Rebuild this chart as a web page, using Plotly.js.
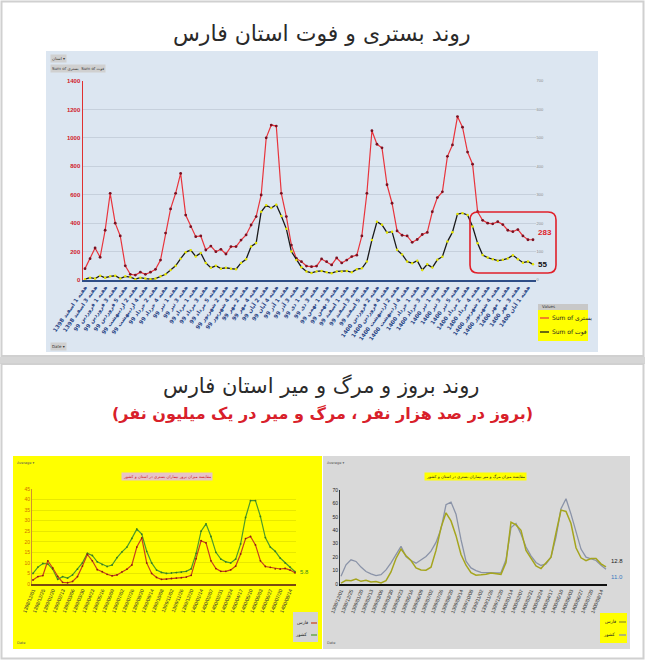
<!DOCTYPE html>
<html><head><meta charset="utf-8">
<script src="https://cdn.plot.ly/plotly-3.0.1.min.js"></script>
<style>html,body{margin:0;padding:0;background:#fff}#chart{width:645px;height:660px}</style>
</head><body><div id="chart"></div>
<script>
// ---------- DATA: top chart (weekly, Fars province) ----------
const weeks = [
'هفته 1 اسفند 1398','هفته 2 اسفند 1398','هفته 3 اسفند 1398','هفته 4 اسفند 1398',
'هفته 1 فروردین 99','هفته 2 فروردین 99','هفته 3 فروردین 99','هفته 4 فروردین 99','هفته 5 فروردین 99',
'هفته 1 اردیبهشت 99','هفته 2 اردیبهشت 99','هفته 3 اردیبهشت 99','هفته 4 اردیبهشت 99',
'هفته 1 خرداد 99','هفته 2 خرداد 99','هفته 3 خرداد 99','هفته 4 خرداد 99','هفته 5 خرداد 99',
'هفته 1 تیر 99','هفته 2 تیر 99','هفته 3 تیر 99','هفته 4 تیر 99',
'هفته 1 مرداد 99','هفته 2 مرداد 99','هفته 3 مرداد 99','هفته 4 مرداد 99','هفته 5 مرداد 99',
'هفته 1 شهریور 99','هفته 2 شهریور 99','هفته 3 شهریور 99','هفته 4 شهریور 99',
'هفته 1 مهر 99','هفته 2 مهر 99','هفته 3 مهر 99','هفته 4 مهر 99',
'هفته 1 آبان 99','هفته 2 آبان 99','هفته 3 آبان 99','هفته 4 آبان 99','هفته 5 آبان 99',
'هفته 1 آذر 99','هفته 2 آذر 99','هفته 3 آذر 99','هفته 4 آذر 99',
'هفته 1 دی 99','هفته 2 دی 99','هفته 3 دی 99','هفته 4 دی 99',
'هفته 1 بهمن 99','هفته 2 بهمن 99','هفته 3 بهمن 99','هفته 4 بهمن 99',
'هفته 1 اسفند 99','هفته 2 اسفند 99','هفته 3 اسفند 99','هفته 4 اسفند 99','هفته 5 اسفند 99',
'هفته 1 فروردین 1400','هفته 2 فروردین 1400','هفته 3 فروردین 1400','هفته 4 فروردین 1400',
'هفته 1 اردیبهشت 1400','هفته 2 اردیبهشت 1400','هفته 3 اردیبهشت 1400','هفته 4 اردیبهشت 1400','هفته 5 اردیبهشت 1400',
'هفته 1 خرداد 1400','هفته 2 خرداد 1400','هفته 3 خرداد 1400','هفته 4 خرداد 1400',
'هفته 1 تیر 1400','هفته 2 تیر 1400','هفته 3 تیر 1400','هفته 4 تیر 1400','هفته 5 تیر 1400',
'هفته 1 مرداد 1400','هفته 2 مرداد 1400','هفته 3 مرداد 1400','هفته 4 مرداد 1400',
'هفته 1 شهریور 1400','هفته 2 شهریور 1400','هفته 3 شهریور 1400','هفته 4 شهریور 1400','هفته 5 شهریور 1400',
'هفته 1 مهر 1400','هفته 2 مهر 1400','هفته 3 مهر 1400','هفته 4 مهر 1400',
'هفته 1 آبان 1400','هفته 2 آبان 1400'
];
const hospitalized = [80,150,225,160,350,610,400,310,100,40,35,55,40,55,75,140,330,500,610,750,
457,375,305,310,211,239,199,216,183,235,235,281,317,387,446,598,1000,1090,1083,610,
446,246,152,129,98,94,98,148,129,106,155,120,140,165,175,310,610,1050,955,930,
670,540,345,315,310,265,285,320,335,480,580,620,870,950,1150,1075,900,815,480,420,
400,395,410,390,350,340,355,310,283,283];
const deaths = [3,8,5,15,8,13,15,5,13,10,3,8,5,3,5,13,20,35,50,75,
98,105,83,95,60,43,50,40,43,40,38,60,73,118,130,240,263,253,265,225,
180,100,70,45,30,25,30,32,27,24,30,30,32,27,38,41,65,141,205,194,
167,170,106,90,65,59,68,35,55,44,71,82,135,168,232,235,229,188,129,88,
79,73,68,71,76,87,73,61,65,55];

// ---------- DATA: bottom charts ----------
const dates = ['1398/12/01','1398/12/13','1398/12/25','1399/01/08','1399/01/20','1399/02/01','1399/02/13','1399/02/25','1399/03/06','1399/03/18',
'1399/03/30','1399/04/11','1399/04/23','1399/05/04','1399/05/16','1399/05/28','1399/06/09','1399/06/21','1399/07/02','1399/07/14',
'1399/07/26','1399/08/08','1399/08/20','1399/09/02','1399/09/14','1399/09/26','1399/10/08','1399/10/20','1399/11/02','1399/11/14',
'1399/11/26','1399/12/08','1399/12/20','1400/01/02','1400/01/14','1400/01/26','1400/02/07','1400/02/19','1400/02/31','1400/03/12',
'1400/03/24','1400/04/05','1400/04/17','1400/04/29','1400/05/10','1400/05/22','1400/06/03','1400/06/15','1400/06/27','1400/07/08',
'1400/07/20','1400/08/02','1400/08/14','1400/08/26'];
const incidenceIran = [5.0,8.0,9.7,9.5,7.0,2.2,3.5,2.8,4.3,7.0,10,14.5,13.5,10.5,9.2,8.3,9.0,12.5,15.2,17.5,
21.6,26,23.6,15.5,10,6.6,5.5,5.0,5.2,5.4,5.6,6.0,7.2,14.5,25,28.5,22.5,15,11.8,10.5,
10,11.8,19,31.5,39.5,39.5,32,22,17.5,15.5,12.3,10,8,5.8];
const incidenceFars = [1.9,3.5,4.0,11,7.6,3.6,0.8,0.6,1.2,3.5,8.5,14,11,6.8,5.8,4.6,3.9,4.3,5.7,7.0,
9.0,17.5,21.8,10,5,3.1,2.2,2.3,2.6,2.8,3.0,3.3,4.1,12,20.5,19.5,11,7.3,6,6.0,
6.7,8.5,14.2,21.5,22.5,18.5,11,8.3,7.9,7.2,7.1,7.4,6.6,5.3];
const mortalityIran = [5.7,14.3,18,16.8,12.6,9.3,7.5,6.2,7,10.5,15.8,21.5,28,20.5,17.5,15.5,17.8,20.5,24.5,31,
41,59,61,52,33,17,12,10,8.7,8.4,8.2,8.2,8.5,18,42,45,37,27.5,21,16,
13.8,15,20,35,56,63.5,52,38,26,20,18.5,17.5,14,11];
const mortalityFars = [0.7,2.7,2.5,3.7,2.0,2.8,1.5,1.8,0.8,2.5,9,19,26,21,17.5,12,10.5,10.3,12.5,25,
42,53,47,36,22,14,8.5,6.5,6.8,7.2,8.2,7.8,7.2,16,46,44,40,25,19,13.5,
11.5,15.6,20,38,55,54,45,27,19.5,17.3,19,19,15,12.8];

// ---------- helpers (pixel -> paper) ----------
const W = 645, H = 660;
const px = v => v / W;
const py = v => 1 - v / H;
const AR = 'DejaVu Sans';
const LAT = 'Liberation Sans, DejaVu Sans';
function rrect(x0, y0, x1, y1, r) {
  return `M${px(x0+r)},${py(y0)} L${px(x1-r)},${py(y0)} Q${px(x1)},${py(y0)} ${px(x1)},${py(y0+r)} ` +
         `L${px(x1)},${py(y1-r)} Q${px(x1)},${py(y1)} ${px(x1-r)},${py(y1)} L${px(x0+r)},${py(y1)} ` +
         `Q${px(x0)},${py(y1)} ${px(x0)},${py(y1-r)} L${px(x0)},${py(y0+r)} Q${px(x0)},${py(y0)} ${px(x0+r)},${py(y0)} Z`;
}
const rectP = (x0,y0,x1,y1,fill,line,layer) => ({type:'rect', xref:'paper', yref:'paper',
  x0:px(x0), x1:px(x1), y0:py(y1), y1:py(y0), fillcolor:fill, line: line || {width:0}, layer: layer || 'below'});
const lineP = (x0,y0,x1,y1,color,w) => ({type:'line', xref:'paper', yref:'paper',
  x0:px(x0), x1:px(x1), y0:py(y0), y1:py(y1), line:{color:color, width:w}, layer:'above'});
const txt = (x,y,text,size,color,opts) => Object.assign({xref:'paper', yref:'paper', x:px(x), y:py(y), text:text,
  showarrow:false, font:{size:size, color:color, family:AR}, xanchor:'center', yanchor:'middle'}, opts || {});

// ---------- traces ----------
const traces = [
  {x: weeks, y: hospitalized, name: 'Sum of بستری', type:'scatter', mode:'lines+markers', xaxis:'x', yaxis:'y',
   line:{color:'#e8343c', width:1.2}, marker:{size:2.8, color:'#7a1020'}},
  {x: weeks, y: deaths, name: 'Sum of فوت', type:'scatter', mode:'lines+markers', xaxis:'x', yaxis:'y2',
   line:{color:'#1a1a1a', width:1.3}, marker:{size:2.5, color:'#e6e600'}},
  {x: dates, y: incidenceIran, name:'کشور', type:'scatter', mode:'lines+markers', xaxis:'x3', yaxis:'y3',
   line:{color:'#4c9a2a', width:1.2}, marker:{size:1.8, color:'#3a7a20'}},
  {x: dates, y: incidenceFars, name:'فارس', type:'scatter', mode:'lines+markers', xaxis:'x3', yaxis:'y3',
   line:{color:'#c8401c', width:1.2}, marker:{size:1.8, color:'#8a2010'}},
  {x: dates, y: mortalityIran, name:'کشور', type:'scatter', mode:'lines', xaxis:'x4', yaxis:'y4',
   line:{color:'#8a93a8', width:1.3}},
  {x: dates, y: mortalityFars, name:'فارس', type:'scatter', mode:'lines', xaxis:'x4', yaxis:'y4',
   line:{color:'#a5a51e', width:1.5}}
];

const evenWeeks = weeks.filter((w, i) => i % 2 === 0);

const layout = {
  width: W, height: H, margin:{l:0, r:0, t:0, b:0},
  paper_bgcolor:'#ffffff', plot_bgcolor:'rgba(0,0,0,0)',
  showlegend:false, hovermode:false,
  font:{family: LAT, size:6, color:'#333'},
  xaxis:{domain:[px(83), px(535.5)], range:[-0.4, 89.5], type:'category', anchor:'y',
    tickmode:'array', tickvals: evenWeeks, ticktext: evenWeeks, tickangle:-55,
    tickfont:{size:5.5, color:'#2a4585', family:AR, weight:'bold'},
    showline:true, linecolor:'#2e4d86', linewidth:2, ticks:'', showgrid:false, zeroline:false},
  yaxis:{domain:[py(280), py(81)], range:[0,1400], dtick:200, anchor:'x',
    tickfont:{size:6, color:'#d0202a', family:LAT, weight:'bold'},
    showline:true, linecolor:'#e03030', linewidth:1.5, gridcolor:'#c6d0dc', gridwidth:1, zeroline:false, ticks:''},
  yaxis2:{overlaying:'y', side:'right', range:[0,700], dtick:100, anchor:'x',
    tickfont:{size:4, color:'#8a8a8a', family:LAT}, showgrid:false, showline:false, zeroline:false, ticks:''},
  xaxis3:{domain:[px(32), px(296)], range:[-0.2, 53.2], type:'category', anchor:'y3',
    tickangle:-68, tickfont:{size:5, color:'#333', family:LAT},
    showline:true, linecolor:'#7a4a10', linewidth:1.5, ticks:'', showgrid:false, zeroline:false},
  yaxis3:{domain:[py(584), py(489)], range:[0,45], dtick:5, anchor:'x3',
    tickfont:{size:5, color:'#d07000', family:LAT},
    showline:true, linecolor:'#d09030', linewidth:1, gridcolor:'rgba(190,190,0,0.35)', zeroline:false, ticks:''},
  xaxis4:{domain:[px(340), px(607)], range:[-0.2, 53.2], type:'category', anchor:'y4',
    tickangle:-68, tickfont:{size:5, color:'#333', family:LAT},
    showline:true, linecolor:'#111', linewidth:2, ticks:'', showgrid:false, zeroline:false},
  yaxis4:{domain:[py(584), py(490)], range:[0,70], dtick:10, anchor:'x4',
    tickfont:{size:5, color:'#222', family:LAT},
    showline:true, linecolor:'#333', linewidth:1, showgrid:false, zeroline:false, ticks:''},
  shapes: [
    rectP(0, 357, 645, 364, '#d6d6d6'),
    rectP(46, 51, 598, 352, '#dce6f1'),
    rectP(13, 456, 322, 649, '#ffff00'),
    rectP(323, 456, 630, 649, '#d9d9d9'),
    {type:'rect', xref:'paper', yref:'paper', x0:px(1.5), x1:px(643.5), y0:py(356), y1:py(1.5),
     line:{color:'#d0d0d0', width:2}, fillcolor:'rgba(0,0,0,0)', layer:'below'},
    {type:'rect', xref:'paper', yref:'paper', x0:px(1.5), x1:px(643.5), y0:py(658.5), y1:py(364),
     line:{color:'#d0d0d0', width:2}, fillcolor:'rgba(0,0,0,0)', layer:'below'},
    {type:'path', xref:'paper', yref:'paper', path: rrect(470, 212, 556, 273, 8),
     line:{color:'#e0202a', width:1.6}, fillcolor:'rgba(0,0,0,0)', layer:'above'},
    // top legend
    rectP(538, 304, 588, 341, '#ffff00', null, 'above'),
    rectP(538, 304, 588, 310, '#c8c8c8', null, 'above'),
    lineP(540, 318, 549, 318, '#e8343c', 1.2),
    lineP(540, 332, 549, 332, '#1a1a1a', 1.3),
    // bottom-left legend
    rectP(293, 612, 318, 642, '#d4d4d4', null, 'above'),
    lineP(311, 623, 317, 623, '#c8401c', 1.2),
    lineP(311, 635, 317, 635, '#4c9a2a', 1.2),
    // bottom-right legend
    rectP(600, 613, 627, 643, '#ffff00', null, 'above'),
    lineP(619, 622, 626, 622, '#a5a51e', 1.5),
    lineP(619, 635, 626, 635, '#8a93a8', 1.3)
  ],
  annotations: [
    txt(322, 34, 'روند بستری و فوت استان فارس', 22, '#2a2a2a'),
    txt(321, 386, 'روند بروز و مرگ و میر استان فارس', 21, '#2a2a2a'),
    txt(322, 413, '(بروز در صد هزار نفر ، مرگ و میر در یک میلیون نفر)', 16, '#d8202a', {font:{size:16, color:'#d8202a', family:AR, weight:'bold'}}),
    txt(50, 58, 'استان ▾', 4, '#333', {xanchor:'left', bgcolor:'#d0d0d0'}),
    txt(50, 69, 'Sum of بستری  Sum of فوت', 4, '#333', {xanchor:'left', bgcolor:'#d0d0d0'}),
    txt(50, 346, 'Date ▾', 4, '#333', {xanchor:'left', bgcolor:'#d0d0d0'}),
    txt(540, 307, 'Values', 4, '#333', {xanchor:'left'}),
    txt(550, 318, 'Sum of بستری', 6, '#222', {xanchor:'left'}),
    txt(550, 332, 'Sum of فوت', 6, '#222', {xanchor:'left'}),
    {xref:'x', yref:'y', x: weeks[weeks.length-1], y: hospitalized[hospitalized.length-1], text: String(hospitalized[hospitalized.length-1]),
     showarrow:false, xanchor:'left', xshift:3, yshift:7, font:{size:8, color:'#e0202a', family:LAT, weight:'bold'}},
    {xref:'x', yref:'y2', x: weeks[weeks.length-1], y: deaths[deaths.length-1], text: String(deaths[deaths.length-1]),
     showarrow:false, xanchor:'left', xshift:3, font:{size:8, color:'#111', family:LAT, weight:'bold'}},
    // bottom-left chart
    txt(167, 476, 'مقایسه میزان بروز بیماران بستری در استان و کشور', 4, '#d0101a', {bgcolor:'#e6c3c8'}),
    txt(15, 463, 'Average ▾', 3.5, '#555', {xanchor:'left'}),
    txt(15, 643, 'Date', 3.5, '#555', {xanchor:'left'}),
    txt(310, 623, 'فارس', 4.5, '#222', {xanchor:'right'}),
    txt(310, 635, 'کشور', 4.5, '#222', {xanchor:'right'}),
    {xref:'x3', yref:'y3', x: dates[dates.length-1], y: incidenceIran[incidenceIran.length-1], text: incidenceIran[incidenceIran.length-1].toFixed(1),
     showarrow:false, xanchor:'left', xshift:3, font:{size:6, color:'#3a8a20', family:LAT}},
    // bottom-right chart
    txt(475, 476, 'مقایسه میزان مرگ و میر بیماران بستری در استان و کشور', 4, '#222', {bgcolor:'#ffff00'}),
    txt(325, 463, 'Average ▾', 3.5, '#555', {xanchor:'left'}),
    txt(325, 643, 'Date', 3.5, '#555', {xanchor:'left'}),
    txt(618, 622, 'فارس', 4.5, '#222', {xanchor:'right'}),
    txt(618, 635, 'کشور', 4.5, '#222', {xanchor:'right'}),
    {xref:'x4', yref:'y4', x: dates[dates.length-1], y: mortalityFars[mortalityFars.length-1], text: mortalityFars[mortalityFars.length-1].toFixed(1),
     showarrow:false, xanchor:'left', xshift:3, yshift:6, font:{size:6, color:'#222', family:LAT}},
    {xref:'x4', yref:'y4', x: dates[dates.length-1], y: mortalityIran[mortalityIran.length-1], text: mortalityIran[mortalityIran.length-1].toFixed(1),
     showarrow:false, xanchor:'left', xshift:3, yshift:-8, font:{size:6, color:'#3a78c0', family:LAT}}
  ]
};

Plotly.newPlot('chart', traces, layout, {staticPlot:true, displayModeBar:false});
</script>
</body></html>
